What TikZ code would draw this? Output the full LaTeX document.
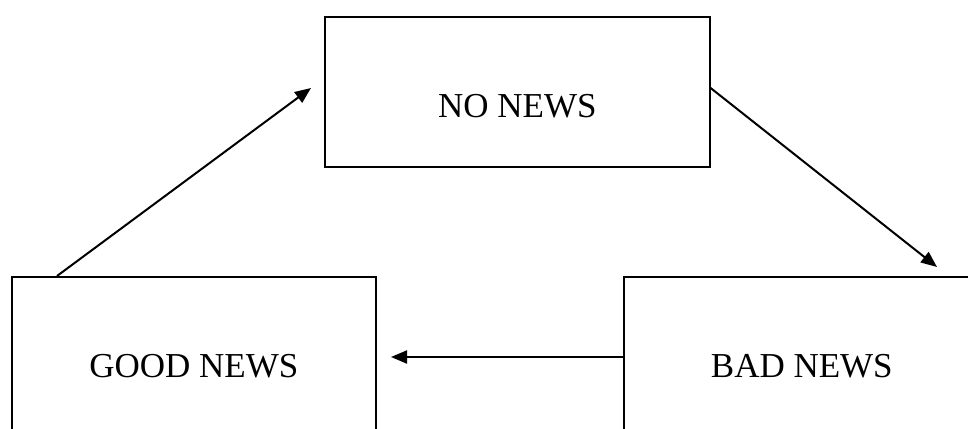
\documentclass[tikz,border=0pt]{standalone}
\usepackage{fontspec}
\setmainfont{Liberation Serif}
\usetikzlibrary{arrows.meta,calc}
\tikzset{
  newsbox/.style={draw=black, line width=1.6pt, rectangle, inner sep=0pt, anchor=north west,
    font=\fontsize{35}{40}\selectfont, text height=101pt},
  newsarrow/.style={line width=2pt, -{Triangle[length=16pt,width=13pt]}}
}
\begin{document}
\begin{tikzpicture}[x=1pt,y=-1pt]
\useasboundingbox (0,0) rectangle (968,428);
\clip (0,0) rectangle (968,428);
\fill[white] (0,0) rectangle (968,428);
\node[newsbox, minimum width=385pt, text depth=49pt] (no) at (324,16) {NO NEWS};
\node[newsbox, minimum width=364pt, text depth=110pt] (good) at (11,276) {GOOD NEWS};
\node[newsbox, minimum width=356pt, text depth=110pt] (bad) at (623,276) {BAD NEWS};
\coordinate (t1) at (311,88);
\coordinate (t2) at (937,267);
\coordinate (t3) at (391,357);
\draw[newsarrow] ($(good.north west)+(46,0)$) -- (t1);
\draw[newsarrow] ($(no.north east)+(0,72)$) -- (t2);
\draw[newsarrow] ($(bad.north west)+(0,81)$) -- (t3);
\end{tikzpicture}
\end{document}
